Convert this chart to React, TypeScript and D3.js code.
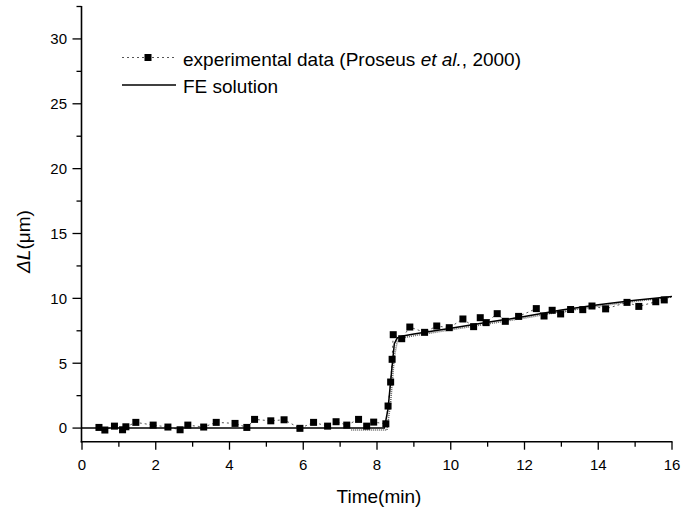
import React from "react";
import * as d3 from "d3";

const expX = [0.46,0.62,0.88,1.10,1.19,1.46,1.93,2.33,2.66,2.87,3.30,3.64,4.15,4.47,4.68,5.12,5.48,5.91,6.28,6.66,6.89,7.18,7.50,7.72,7.91,8.24,8.30,8.37,8.41,8.44,8.67,8.89,9.29,9.62,9.96,10.33,10.62,10.80,10.96,11.26,11.48,11.84,12.32,12.53,12.75,12.98,13.25,13.58,13.83,14.20,14.78,15.10,15.56,15.79];
const expY = [0.05,-0.15,0.15,-0.13,0.1,0.44,0.23,0.08,-0.13,0.23,0.08,0.44,0.36,0.05,0.67,0.56,0.64,-0.02,0.44,0.15,0.49,0.23,0.67,0.15,0.46,0.33,1.70,3.55,5.30,7.20,6.89,7.79,7.38,7.87,7.74,8.41,7.82,8.51,8.13,8.82,8.23,8.61,9.21,8.64,9.08,8.80,9.14,9.13,9.41,9.19,9.69,9.38,9.74,9.88];

const feX = [0,8.2,8.3,8.4,8.47,8.55,8.7,9,10,11,12,13,14,15,16];
const feY = [0,0,1.5,4.5,6.5,6.95,7.1,7.25,7.7,8.15,8.6,9.1,9.5,9.85,10.15];

const fe2X = [7.3,8.27,8.37,8.47,8.55,8.7,9,10,11,12,13,14,15,16];
const fe2Y = [-0.15,-0.15,2.0,5.5,6.7,6.95,7.12,7.58,8.03,8.48,8.98,9.4,9.77,10.1];

const xTicks = [0,2,4,6,8,10,12,14,16];
const yTicks = [0,5,10,15,20,25,30];

const legendLabels = ["experimental data (Proseus ", "et al.", ", 2000)", "FE solution"];

export default function App() {
  const x = d3.scaleLinear().domain([0, 16]).range([82, 672]);
  const y = d3.scaleLinear().domain([-1.05, 32.5]).range([441.7, 6.5]);
  const axisY = 441.7;
  const axisX = 81.5;
  const font = "Arial, 'Liberation Sans', sans-serif";

  const line = d3.line<[number, number]>().x(d => x(d[0])).y(d => y(d[1]));
  const expPts: [number, number][] = expX.map((v, i) => [v, expY[i]]);
  const fePts: [number, number][] = feX.map((v, i) => [v, feY[i]]);
  const fe2Pts: [number, number][] = fe2X.map((v, i) => [v, fe2Y[i]]);

  const xMinor = d3.range(1, 16, 2);
  const yMinor = d3.range(2.5, 32.6, 5);

  return (
    <svg width={686} height={515} style={{ position: "absolute", left: 0, top: 0, background: "#fff" }} fontFamily={font}>
      <rect x={0} y={0} width={686} height={515} fill="#fff" />
      {/* data lines */}
      <path d={line(expPts) || ""} fill="none" stroke="#555" strokeWidth={1} strokeDasharray="2,3" />
      <path d={line(fe2Pts) || ""} fill="none" stroke="#666" strokeWidth={1.6} strokeDasharray="1,1" />
      <path d={line(fePts) || ""} fill="none" stroke="#000" strokeWidth={1.5} />
      {expPts.map((p, i) => (
        <rect key={i} x={x(p[0]) - 3.5} y={y(p[1]) - 3.5} width={7} height={7} fill="#000" />
      ))}

      {/* axes */}
      <line x1={axisX} x2={axisX} y1={y(32.5) - 0.5} y2={axisY + 0.8} stroke="#000" strokeWidth={1.6} />
      <line x1={axisX - 0.8} x2={x(16) + 0.5} y1={axisY} y2={axisY} stroke="#000" strokeWidth={1.6} />
      {yTicks.map(t => (
        <g key={"yt" + t}>
          <line x1={axisX - 9} x2={axisX} y1={y(t)} y2={y(t)} stroke="#000" strokeWidth={1.3} />
          <text x={67} y={y(t) + 5.3} fontSize={15} textAnchor="end" fill="#000">{t}</text>
        </g>
      ))}
      {yMinor.map(t => (
        <line key={"ym" + t} x1={axisX - 5} x2={axisX} y1={y(t)} y2={y(t)} stroke="#000" strokeWidth={1.3} />
      ))}
      {xTicks.map(t => (
        <g key={"xt" + t}>
          <line x1={x(t)} x2={x(t)} y1={axisY} y2={axisY + 8} stroke="#000" strokeWidth={1.3} />
          <text x={x(t)} y={470} fontSize={15} textAnchor="middle" fill="#000">{t}</text>
        </g>
      ))}
      {xMinor.map(t => (
        <line key={"xm" + t} x1={x(t)} x2={x(t)} y1={axisY} y2={axisY + 5} stroke="#000" strokeWidth={1.3} />
      ))}

      {/* axis labels */}
      <text x={379} y={502.5} fontSize={19} textAnchor="middle" fill="#000">Time(min)</text>
      <text transform="translate(30,241.5) rotate(-90)" fontSize={19} textAnchor="middle" fill="#000">
        <tspan fontStyle="italic">ΔL</tspan>(μm)
      </text>

      {/* legend */}
      <line x1={122} x2={176} y1={57.5} y2={57.5} stroke="#555" strokeWidth={1} strokeDasharray="2,3" />
      <rect x={148 - 3.5} y={57.5 - 3.5} width={7} height={7} fill="#000" />
      <text x={183} y={65.5} fontSize={19} fill="#000">
        {legendLabels[0]}<tspan fontStyle="italic">{legendLabels[1]}</tspan>{legendLabels[2]}
      </text>
      <line x1={122} x2={176} y1={85} y2={85} stroke="#000" strokeWidth={1.5} />
      <text x={183} y={92.5} fontSize={19} fill="#000">{legendLabels[3]}</text>
    </svg>
  );
}
